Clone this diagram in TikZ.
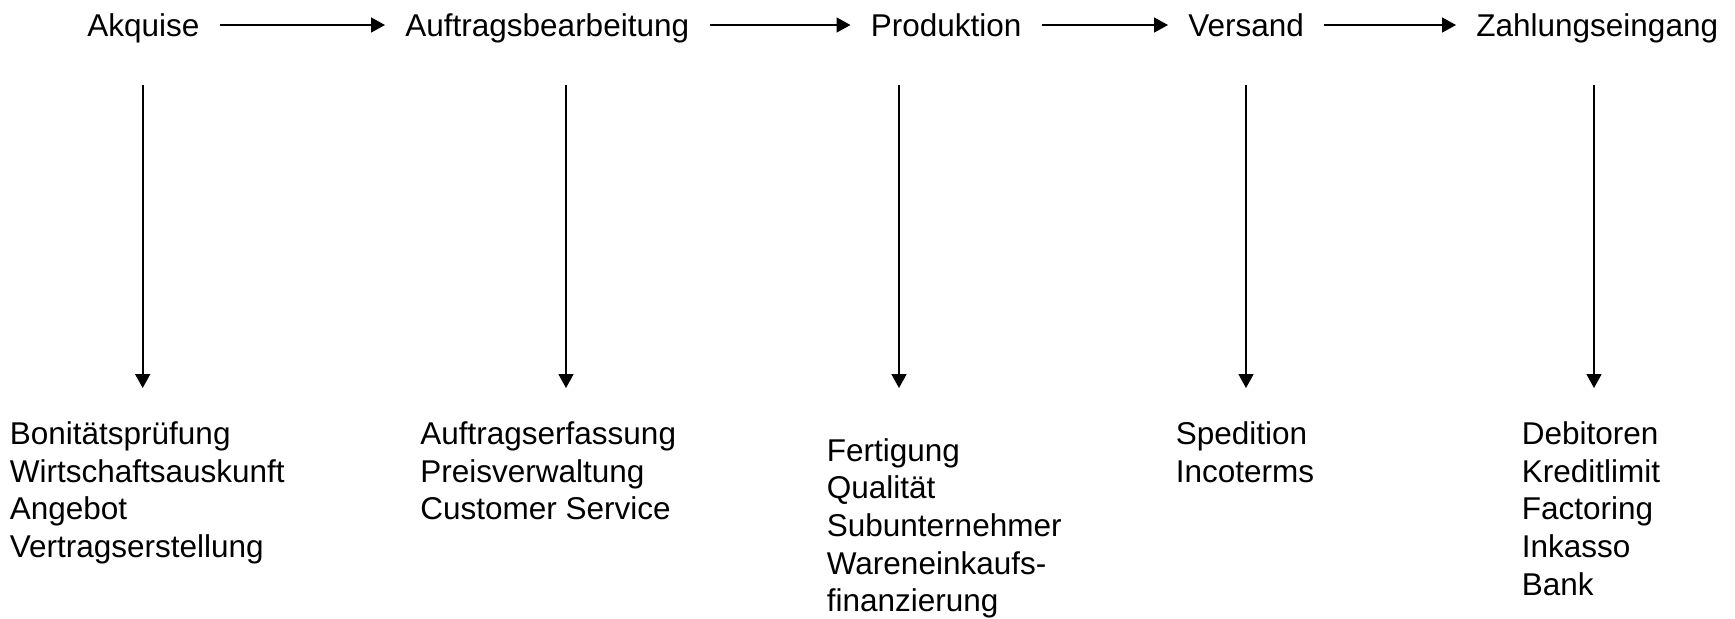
\documentclass[tikz,border=0pt]{standalone}
\usepackage{fontspec}
\setmainfont{Liberation Sans}
\usetikzlibrary{arrows.meta}
\begin{document}
\begin{tikzpicture}[x=0.5pt,y=-0.5pt,
  lbl/.style={anchor=base west, inner sep=0pt, font=\fontsize{15.75}{18.85}\selectfont},
  flow/.style={line width=0.85pt, -{Triangle[length=7pt,width=7.5pt]}},
  hflow/.style={flow}
]
\useasboundingbox (0,0) rectangle (1735,618);
% top row
\node[lbl] (akq) at (87,36.5) {Akquise};
\node[lbl] (auf) at (405,36.5) {Auftragsbearbeitung};
\node[lbl] (pro) at (870.5,36.5) {Produktion};
\node[lbl] (ver) at (1188,36.5) {Versand};
\node[lbl] (zah) at (1476,36.5) {Zahlungseingang};
\foreach \a/\b in {akq/auf,auf/pro,pro/ver,ver/zah}{
  \draw[hflow] ([xshift=10pt,yshift=5.75pt]\a.base east) -- ([xshift=-10pt,yshift=5.75pt]\b.base west);
}
% lists
\node[lbl] (l1) at (9.5,444.5) {\begin{tabular}[t]{@{}l@{}}Bonitätsprüfung\\Wirtschaftsauskunft\\Angebot\\Vertragserstellung\end{tabular}};
\node[lbl] (l2) at (420,444.5) {\begin{tabular}[t]{@{}l@{}}Auftragserfassung\\Preisverwaltung\\Customer Service\end{tabular}};
\node[lbl] (l3) at (826.5,461) {\begin{tabular}[t]{@{}l@{}}Fertigung\\Qualität\\Subunternehmer\\Wareneinkaufs-\\finanzierung\end{tabular}};
\node[lbl] (l4) at (1175.5,444.5) {\begin{tabular}[t]{@{}l@{}}Spedition\\Incoterms\end{tabular}};
\node[lbl] (l5) at (1521.5,444.5) {\begin{tabular}[t]{@{}l@{}}Debitoren\\Kreditlimit\\Factoring\\Inkasso\\Bank\end{tabular}};
% vertical arrows
\foreach \i/\x in {1/142.7,2/566,3/899,4/1246,5/1594}{
  \coordinate (v\i a) at (\x,85);
  \coordinate (v\i b) at (\x,388);
  \draw[flow] (v\i a) -- (v\i b);
}
\end{tikzpicture}
\end{document}
